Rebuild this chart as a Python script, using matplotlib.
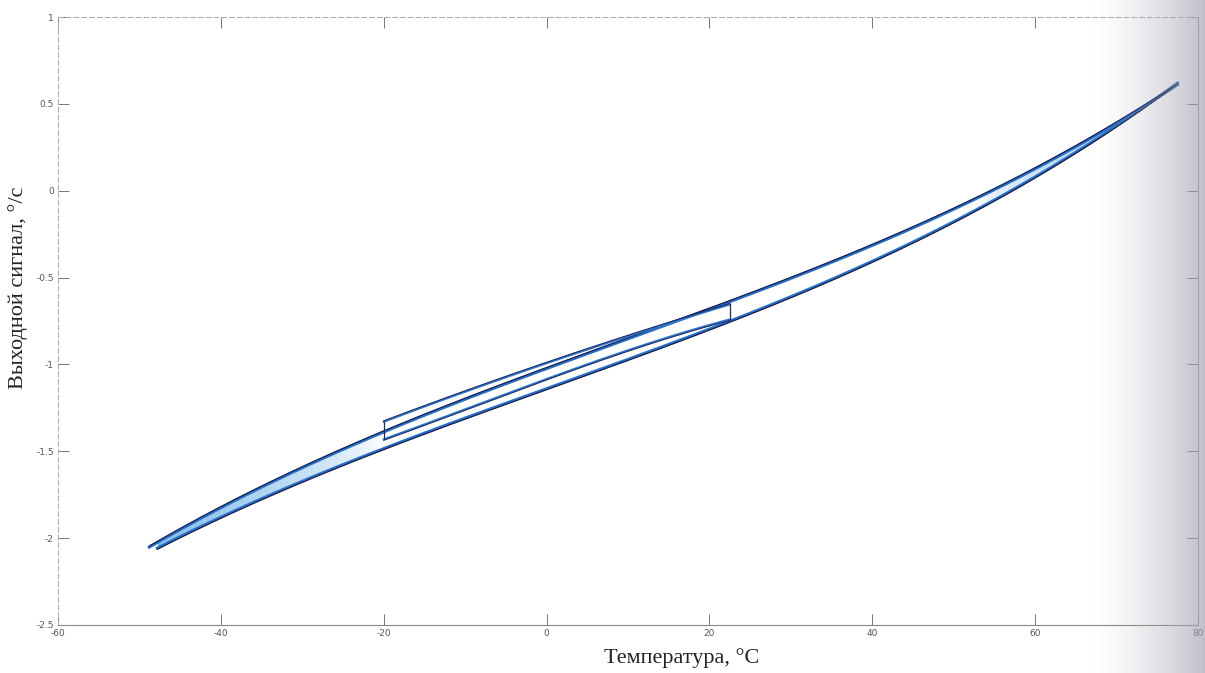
import numpy as np
import matplotlib.pyplot as plt

# outer loop, cooling branch (upper) and heating branch (lower)
t_up = [-48.8, -40, -30, -20, -10, 0, 10, 20, 30, 40, 50, 60, 70, 77.5]
s_up = [-2.05, -1.83, -1.60, -1.39, -1.19, -1.01, -0.86, -0.70, -0.52, -0.31, -0.09, 0.13, 0.38, 0.61]
t_dn = [-47.8, -40, -30, -20, -10, 0, 10, 20, 30, 40, 50, 60, 70, 77.5]
s_dn = [-2.07, -1.88, -1.66, -1.47, -1.29, -1.13, -0.99, -0.84, -0.63, -0.39, -0.14, 0.10, 0.36, 0.61]
# minor loop between -20 and 22.5 degrees
t_mc = [22.5, 10, 0, -10, -20]
s_mc = [-0.655, -0.84, -0.99, -1.16, -1.33]
t_mh = [-20, -10, 0, 10, 22.5]
s_mh = [-1.43, -1.26, -1.08, -0.92, -0.74]

xticks = [-60, -40, -20, 0, 20, 40, 60, 80]
yticks = [1, 0.5, 0, -0.5, -1, -1.5, -2, -2.5]
ytick_labels = ['1', '0.5', '0', '-0.5', '-1', '-1.5', '-2', '-2.5']


def smooth(t, s, n=300):
    tt = np.linspace(min(t), max(t), n)
    c = np.polyfit(t, s, 3)
    return tt, np.polyval(c, tt)


fig = plt.figure(figsize=(12.05, 6.73), dpi=100)
ax = fig.add_axes([58 / 1205, 1 - 625 / 673, 1140 / 1205, 608 / 673])

tu, su = smooth(t_up, s_up)
td, sd = smooth(t_dn, s_dn)

# light blue fill where the branches run together, fading toward the middle
cu = np.polyfit(t_up, s_up, 3)
cd = np.polyfit(t_dn, s_dn, 3)
for lo, hi, fade_at_hi in [(-47.8, -20, True), (52, 77.5, False)]:
    edges = np.linspace(lo, hi, 40)
    for i in range(len(edges) - 1):
        f = i / (len(edges) - 2)
        alpha = 0.85 * ((1 - f) if fade_at_hi else f) ** 0.7
        tt = np.linspace(edges[i], edges[i + 1], 5)
        ax.fill_between(tt, np.polyval(cd, tt), np.polyval(cu, tt),
                        color='#6fb2e6', lw=0, alpha=alpha)

ax.plot(tu, su, color='#2a6fc6', lw=2.0)
ax.plot(td, sd, color='#2a6fc6', lw=2.0)
ax.plot(tu, su + 0.007, color='#17204f', lw=0.9)
ax.plot(td, sd - 0.007, color='#17204f', lw=0.9)

# minor loop
mc_t, mc_s = smooth(t_mc, s_mc)
mh_t, mh_s = smooth(t_mh, s_mh)
ax.plot(mc_t, mc_s, color='#2f78cc', lw=1.4)
ax.plot(mc_t, mc_s + 0.006, color='#1d2a66', lw=0.8)
ax.plot(mh_t, mh_s, color='#2f78cc', lw=1.4)
ax.plot(mh_t, mh_s - 0.006, color='#1d2a66', lw=0.8)
ax.plot([t_mc[-1], t_mh[0]], [s_mc[-1], s_mh[0]], color='#1d2a66', lw=0.9)
ax.plot([t_mh[-1], t_mc[0]], [s_mh[-1], s_mc[0]], color='#1d2a66', lw=0.9)

ax.set_xlim(-60, 80)
ax.set_ylim(-2.5, 1)
ax.set_xticks(xticks)
ax.set_xticklabels([str(v) for v in xticks])
ax.set_yticks(yticks)
ax.set_yticklabels(ytick_labels)
ax.tick_params(direction='in', length=8, width=0.7, colors='#777777',
               labelsize=6.5, labelcolor='#555555', top=True, right=True, pad=3)
for side in ['left', 'top']:
    ax.spines[side].set_linestyle((0, (5, 3)))
    ax.spines[side].set_color('#aaaaaa')
    ax.spines[side].set_linewidth(0.7)
ax.spines['bottom'].set_color('#888888')
ax.spines['bottom'].set_linewidth(0.8)
ax.spines['right'].set_color('#999999')
ax.spines['right'].set_linewidth(0.7)

fig.text(682 / 1205, 1 - 658 / 673, 'Температура, °C', family='Liberation Serif',
         fontsize=16, ha='center', va='center', color='#222222')
fig.text(18 / 1205, 1 - 288 / 673, 'Выходной сигнал, °/c', family='Liberation Serif',
         fontsize=16, ha='center', va='center', rotation=90, color='#222222')

# grey shading along the right edge
shade = fig.add_axes([0, 0, 1, 1], zorder=10)
shade.axis('off')
w = 1205
g = np.zeros((1, w, 4))
x = np.arange(w)
a = np.clip((x - 1090) / 115.0, 0, 1) ** 1.5
g[0, :, 0] = 0.64
g[0, :, 1] = 0.64
g[0, :, 2] = 0.70
g[0, :, 3] = a * 0.7
shade.imshow(g, aspect='auto', extent=[0, 1, 0, 1])
shade.set_xlim(0, 1)
shade.set_ylim(0, 1)

fig.savefig('out.png', dpi=100)
